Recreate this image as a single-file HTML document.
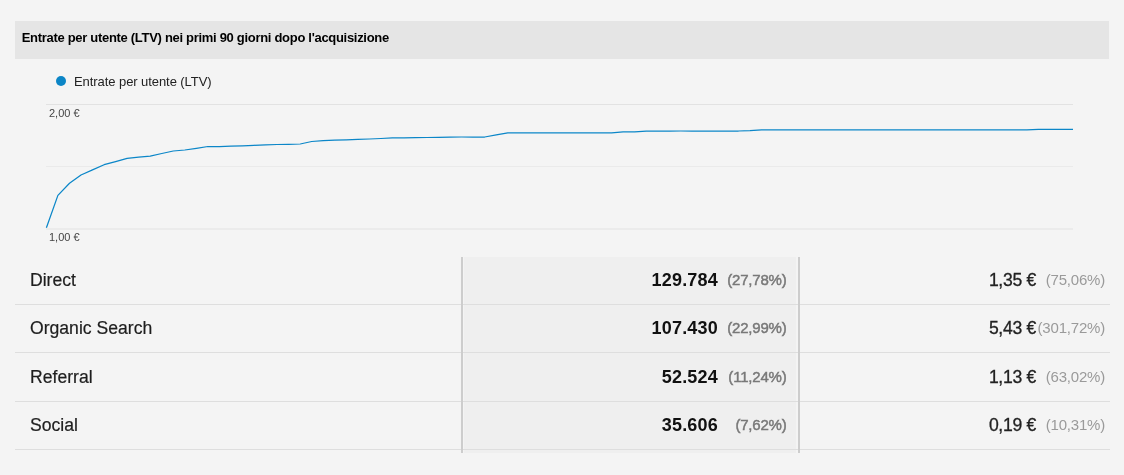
<!DOCTYPE html>
<html><head><meta charset="utf-8">
<style>
html,body{margin:0;padding:0;}
body{width:1124px;height:475px;background:#f4f4f4;position:relative;overflow:hidden;font-family:"Liberation Sans",Arial,sans-serif;color:#212121;}
.hdr{position:absolute;left:15px;top:21px;width:1094px;height:38px;background:#e5e5e5;}
.hdr span{position:absolute;left:6.7px;top:7px;font-size:13px;font-weight:bold;line-height:20px;color:#000;white-space:nowrap;letter-spacing:-0.3px;}
.leg-dot{position:absolute;left:56px;top:76px;width:10px;height:10px;border-radius:50%;background:#0b85c6;}
.leg-txt{position:absolute;left:74px;top:72.5px;letter-spacing:-0.07px;font-size:13px;line-height:18px;color:#222;white-space:nowrap;}
svg{position:absolute;left:0;top:0;}
.ax{font-family:"Liberation Sans",Arial,sans-serif;font-size:11px;fill:#444;}
.mid{position:absolute;left:464px;top:257px;width:332px;height:195.5px;background:#efefef;}
.vl{position:absolute;top:257px;width:2px;height:196px;background:#cdcdcd;}
.hl{position:absolute;left:15px;width:1095px;height:1px;background:#dedede;}
.lab{position:absolute;left:30px;font-size:17.6px;line-height:22px;color:#1e1e1e;white-space:nowrap;-webkit-text-stroke:0.2px #1e1e1e;}
.num{position:absolute;font-size:18px;line-height:22px;white-space:nowrap;text-align:right;}
.b{font-weight:bold;color:#111;letter-spacing:0.2px;}
.pct{position:absolute;font-size:15px;line-height:22px;color:#9a9a9a;white-space:nowrap;text-align:right;width:80px;letter-spacing:-0.2px;}
.pm{color:#787878;-webkit-text-stroke:0.45px #787878;}
.rn{font-size:17.6px;letter-spacing:-0.3px;color:#222;-webkit-text-stroke:0.3px #222;}
</style></head><body>
<div class="hdr"><span>Entrate per utente (LTV) nei primi 90 giorni dopo l'acquisizione</span></div>
<div class="leg-dot"></div>
<div class="leg-txt">Entrate per utente (LTV)</div>
<svg width="1124" height="260" viewBox="0 0 1124 260">
<line x1="46" y1="104.5" x2="1073" y2="104.5" stroke="#e2e2e2" stroke-width="1"/>
<line x1="46" y1="166.5" x2="1073" y2="166.5" stroke="#eaeaea" stroke-width="1"/>
<line x1="46" y1="229" x2="1073" y2="229" stroke="#e2e2e2" stroke-width="1"/>
<text class="ax" x="49" y="117">2,00 €</text>
<text class="ax" x="49" y="241">1,00 €</text>
<polyline fill="none" stroke="#0b86c8" stroke-width="1.25" stroke-linejoin="round" points="46.4,227.7 57.9,195.4 69.5,183.3 81.0,175.0 92.5,169.9 104.1,164.7 115.6,161.6 127.1,158.3 138.7,157.2 150.2,156.1 161.8,153.5 173.3,151.0 184.8,150.0 196.4,148.3 207.9,146.5 219.4,146.6 231.0,146.2 242.5,145.8 254.0,145.3 265.6,144.8 277.1,144.5 288.6,144.3 300.2,144.0 311.7,141.5 323.2,140.7 334.8,140.2 346.3,139.8 357.8,139.4 369.4,139.0 380.9,138.5 392.4,137.9 404.0,137.8 415.5,137.6 427.1,137.5 438.6,137.4 450.1,137.2 461.7,137.0 473.2,137.0 484.7,137.0 496.3,134.9 507.8,132.8 519.3,132.9 530.9,132.9 542.4,132.9 553.9,132.9 565.5,132.9 577.0,132.9 588.5,132.9 600.1,132.9 611.6,132.9 623.1,131.9 634.7,131.9 646.2,131.2 657.8,131.2 669.3,131.2 680.8,131.0 692.4,131.0 703.9,131.0 715.4,131.0 727.0,131.0 738.5,131.0 750.0,130.6 761.6,129.9 773.1,129.9 784.6,129.9 796.2,129.9 807.7,129.9 819.2,129.9 830.8,129.9 842.3,129.9 853.9,129.9 865.4,129.9 876.9,129.9 888.5,129.9 900.0,129.9 911.5,129.9 923.1,129.9 934.6,129.9 946.1,129.9 957.7,129.9 969.2,129.9 980.7,129.9 992.3,129.9 1003.8,129.9 1015.3,129.9 1026.9,129.9 1038.4,129.3 1049.9,129.3 1061.5,129.3 1073.0,129.3"/>
</svg>
<div class="mid"></div>
<div class="hl" style="top:304px"></div>
<div class="hl" style="top:352px"></div>
<div class="hl" style="top:401px"></div>
<div class="hl" style="top:449px"></div>
<div class="vl" style="left:461px"></div>
<div class="vl" style="left:798px"></div>

<div class="lab" style="top:269.0px">Direct</div>
<div class="num b" style="right:406px;top:269.0px">129.784</div>
<div class="pct pm" style="right:337.5px;top:269.0px">(27,78%)</div>
<div class="num rn" style="right:88px;top:269.0px">1,35 €</div>
<div class="pct" style="right:19px;top:269.0px">(75,06%)</div>
<div class="lab" style="top:317.3px">Organic Search</div>
<div class="num b" style="right:406px;top:317.3px">107.430</div>
<div class="pct pm" style="right:337.5px;top:317.3px">(22,99%)</div>
<div class="num rn" style="right:88px;top:317.3px">5,43 €</div>
<div class="pct" style="right:19px;top:317.3px">(301,72%)</div>
<div class="lab" style="top:365.7px">Referral</div>
<div class="num b" style="right:406px;top:365.7px">52.524</div>
<div class="pct pm" style="right:337.5px;top:365.7px">(11,24%)</div>
<div class="num rn" style="right:88px;top:365.7px">1,13 €</div>
<div class="pct" style="right:19px;top:365.7px">(63,02%)</div>
<div class="lab" style="top:414.0px">Social</div>
<div class="num b" style="right:406px;top:414.0px">35.606</div>
<div class="pct pm" style="right:337.5px;top:414.0px">(7,62%)</div>
<div class="num rn" style="right:88px;top:414.0px">0,19 €</div>
<div class="pct" style="right:19px;top:414.0px">(10,31%)</div>
</body></html>
